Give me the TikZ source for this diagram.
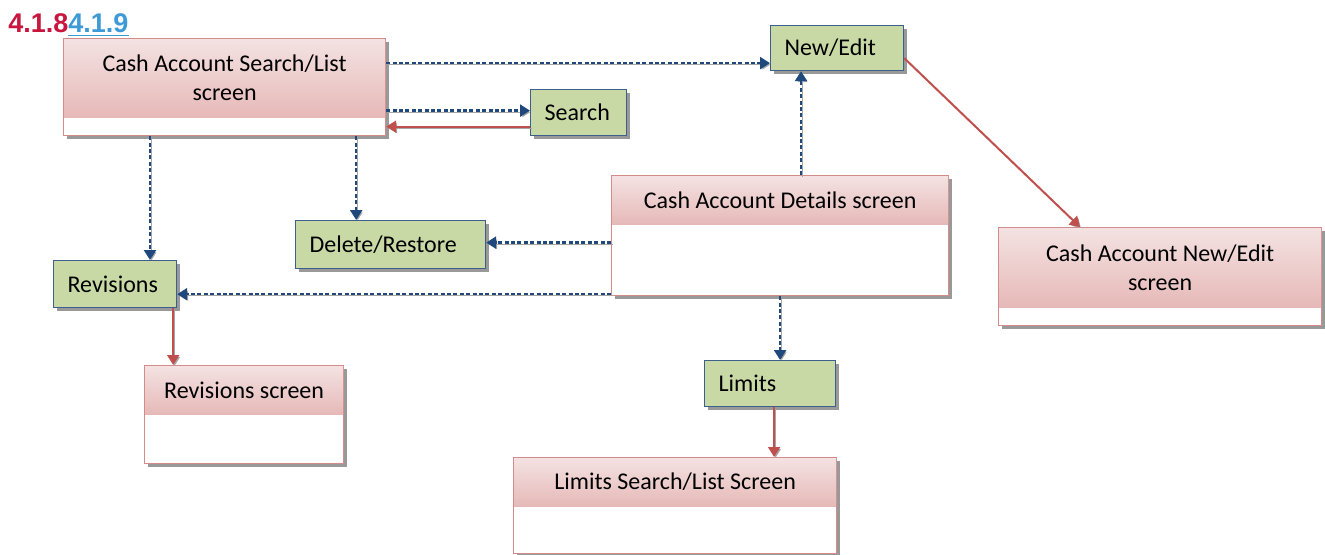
\documentclass[tikz,border=0pt]{standalone}
\usepackage{fontspec}
\setmainfont{Carlito}
\newfontfamily\titlefont{Liberation Sans}
\usetikzlibrary{arrows.meta,positioning,shadows,calc}
\definecolor{pinktop}{HTML}{F4E2E2}
\definecolor{pinkbot}{HTML}{E6B9B8}
\definecolor{pinkline}{HTML}{D38C8A}
\definecolor{actfill}{HTML}{C8D9A5}
\definecolor{actline}{HTML}{3C5F8C}
\definecolor{linkblue}{HTML}{1F497D}
\definecolor{backred}{HTML}{C0504D}
\definecolor{titlered}{HTML}{C8163F}
\definecolor{titleblue}{HTML}{3D9AD6}

\begin{document}
\begin{tikzpicture}[x=0.5pt,y=-0.5pt,font=\fontsize{12}{14.5}\selectfont,
  screen/.style={draw=pinkline,fill=white,line width=0.6pt,anchor=north west,inner sep=0pt,
    drop shadow={shadow xshift=1.6pt,shadow yshift=-1.6pt,fill=black!40,opacity=1}},
  head/.style={anchor=north,inner sep=0pt,top color=pinktop,bottom color=pinkbot,align=center},
  act/.style={draw=actline,fill=actfill,line width=0.6pt,anchor=north west,inner xsep=7pt,inner ysep=0pt,
    align=left,minimum height=23pt,drop shadow={shadow xshift=1.6pt,shadow yshift=-1.6pt,fill=black!40,opacity=1}},
  link/.style={draw=linkblue,line width=1.2pt,dash pattern=on 2pt off 1.2pt,-{Triangle[length=5pt,width=6pt]},
    preaction={draw=black!35,transform canvas={xshift=0.8pt,yshift=-0.8pt}}},
  back/.style={draw=backred,line width=1pt,-{Triangle[length=5pt,width=6pt]},
    preaction={draw=black!35,transform canvas={xshift=0.8pt,yshift=-0.8pt}}}]
\useasboundingbox (0,0) rectangle (1325,554);

% section number
\node[anchor=base west,inner sep=0pt,font=\titlefont\bfseries\fontsize{13.5}{16}\selectfont] (num) at (8,32)
  {\textcolor{titlered}{4.1.8}{\color{titleblue}\underline{4.1.9}}};

% screens
\node[screen,minimum width=161pt,minimum height=48.5pt] (lst) at (63,38) {};
\node[head,minimum width=160.4pt,minimum height=39pt] (lsthd) at ([yshift=-0.3pt]lst.north) {Cash Account Search/List\\screen};
\node[screen,minimum width=168.5pt,minimum height=60pt] (det) at (611,175) {};
\node[head,minimum width=167.9pt,minimum height=24pt] (dethd) at ([yshift=-0.3pt]det.north) {Cash Account Details screen};
\node[screen,minimum width=161.5pt,minimum height=49pt] (nes) at (998,227) {};
\node[head,minimum width=160.9pt,minimum height=39.5pt] (neshd) at ([yshift=-0.3pt]nes.north) {Cash Account New/Edit\\screen};
\node[screen,minimum width=99.5pt,minimum height=49pt] (revs) at (144,365) {};
\node[head,minimum width=98.9pt,minimum height=24pt] (revshd) at ([yshift=-0.3pt]revs.north) {Revisions screen};
\node[screen,minimum width=161.5pt,minimum height=48pt] (lims) at (513,457) {};
\node[head,minimum width=160.9pt,minimum height=24pt] (limshd) at ([yshift=-0.3pt]lims.north) {Limits Search/List Screen};

% actions
\node[act,text width=34pt] (srch) at (530,89) {Search};
\node[act,text width=52.5pt,minimum height=22.5pt] (ned) at (770,25) {New/Edit};
\node[act,text width=81pt,minimum height=24pt] (del) at (295,220) {Delete/Restore};
\node[act,text width=47.5pt,minimum height=23.5pt] (rev) at (53,260) {Revisions};
\node[act,text width=51.5pt] (lim) at (704,360) {Limits};

% links
\draw[link] ([yshift=12pt]lst.east) -- ([yshift=12pt]lst.east -| ned.west);
\draw[link] ([yshift=1pt]srch.west -| lst.east) -- ([yshift=1pt]srch.west);
\draw[back] ([yshift=-7pt]srch.west) -- ([yshift=-7pt]srch.west -| lst.east);
\draw[link] ([xshift=43.5pt]lst.south west) -- ([xshift=43.5pt]lst.south west |- rev.north);
\draw[link] ([xshift=-15pt]lst.south east) -- ([xshift=-15pt]lst.south east |- del.north);
\draw[link] ([xshift=15.5pt]ned.south west |- det.north) -- ([xshift=15.5pt]ned.south west);
\draw[link] ([yshift=1pt]det.west |- del.east) -- ([yshift=1pt]del.east);
\draw[link] ([yshift=1pt]det.south west) -- ([yshift=1pt]det.south west -| rev.east);
\draw[link] (det.south) -- (det.south |- lim.north);
\draw[back] ([xshift=2pt]lim.south) -- ([xshift=2pt]lim.south |- lims.north);
\draw[back] ([xshift=-2pt]rev.south east) -- ([xshift=-2pt]rev.south east |- revs.north);
\draw[back] ([yshift=-5pt]ned.east) -- ([xshift=41pt]nes.north west);
\end{tikzpicture}
\end{document}
